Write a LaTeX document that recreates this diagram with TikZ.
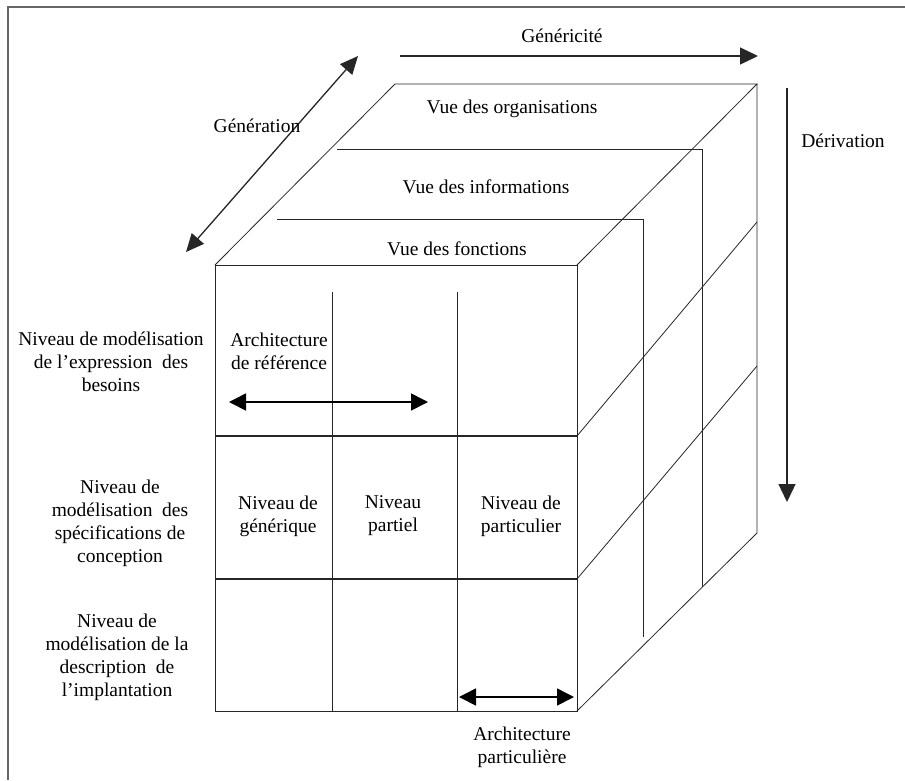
\documentclass[tikz,border=0pt]{standalone}
\usepackage{fontspec}
\setmainfont{Liberation Serif}
\usetikzlibrary{arrows.meta}

\begin{document}
\begin{tikzpicture}[x=1pt,y=-1pt,
  lbl/.style={font=\fontsize{19.5}{23}\selectfont, align=center, inner sep=0pt},
  edge/.style={draw=black!85, line width=0.8pt},
  rowline/.style={draw=black!85, line width=1.1pt},
  axis/.style={draw=black!85, line width=1.3pt,
    -{Triangle[length=18pt,width=17pt]}},
  biaxis/.style={draw=black!85, line width=1.3pt,
    {Triangle[length=18pt,width=16pt]}-{Triangle[length=18pt,width=16pt]}},
  shortaxis/.style={draw=black, line width=1.6pt,
    {Triangle[length=17pt,width=17pt]}-{Triangle[length=17pt,width=17pt]}},
  frame/.style={draw=black!60, line width=1.5pt}]

% page extent
\useasboundingbox (0,0) rectangle (905,780);
\fill[white] (0,0) rectangle (905,780);

% outer frame (top and left edges)
\coordinate (frBL) at (8,780);
\coordinate (frTL) at (8,7);
\coordinate (frTR) at (905,7);
\draw[frame] (frBL) -- (frTL) -- (frTR);

% cube corners
\coordinate (FTL) at (215,265);
\coordinate (FTR) at (577,265);
\coordinate (FBL) at (215,711);
\coordinate (FBR) at (577,711);
\coordinate (BTL) at (395,84);
\coordinate (BTR) at (757,84);
\coordinate (BBR) at (757,533);

% row dividers on the front and right faces
\coordinate (R1L) at (215,436);
\coordinate (R1M) at (577,436);
\coordinate (R1R) at (757,222);
\coordinate (R2L) at (215,579);
\coordinate (R2M) at (577,579);
\coordinate (R2R) at (757,366);

% column dividers on the front face
\coordinate (C1T) at (332,292);
\coordinate (C1B) at (332,711);
\coordinate (C2T) at (457,292);
\coordinate (C2B) at (457,711);

% inner view layers
\coordinate (InfL) at (337,149);
\coordinate (InfC) at (702,149);
\coordinate (InfB) at (702,587);
\coordinate (FonL) at (277,219);
\coordinate (FonC) at (643,219);
\coordinate (FonB) at (643,637);

% cube outline
\draw[edge] (FTL) -- (FTR) -- (FBR) -- (FBL) -- cycle;
\draw[edge] (FTL) -- (BTL) -- (BTR) -- (FTR);
\draw[edge] (BTR) -- (BBR) -- (FBR);

% rows and columns
\draw[rowline] (R1L) -- (R1M);
\draw[edge] (R1M) -- (R1R);
\draw[rowline] (R2L) -- (R2M);
\draw[edge] (R2M) -- (R2R);
\draw[edge] (C1T) -- (C1B);
\draw[edge] (C2T) -- (C2B);

% view layers
\draw[edge] (InfL) -- (InfC) -- (InfB);
\draw[edge] (FonL) -- (FonC) -- (FonB);

% axes
\coordinate (genA) at (400,56);
\coordinate (genB) at (758,56);
\draw[axis] (genA) -- (genB);
\coordinate (gnA) at (186,252);
\coordinate (gnB) at (358,56);
\draw[biaxis] (gnA) -- (gnB);
\coordinate (drA) at (787,88);
\coordinate (drB) at (787,502);
\draw[axis] (drA) -- (drB);

% architecture extents
\coordinate (arA) at (229,402);
\coordinate (arB) at (428,402);
\draw[shortaxis] (arA) -- (arB);
\coordinate (apA) at (459,697);
\coordinate (apB) at (574,697);
\draw[shortaxis] (apA) -- (apB);

% axis labels
\node[lbl] (tGenericite) at (562,36) {Généricité};
\node[lbl] (tGeneration) at (257,126) {Génération};
\node[lbl] (tDerivation) at (843,141) {Dérivation};

% view labels
\node[lbl] (tOrg) at (512,109) {Vue des organisations};
\node[lbl] (tInf) at (486,187) {Vue des informations};
\node[lbl] (tFon) at (457,249) {Vue des fonctions};

% level labels
\node[lbl] (tLev1) at (111,362) {Niveau de modélisation\\de l’expression~ des\\besoins};
\node[lbl] (tLev2) at (120,523) {Niveau de\\modélisation~ des\\spécifications de\\conception};
\node[lbl] (tLev3) at (117,657) {Niveau de\\modélisation de la\\description~ de\\l’implantation};

% cell labels
\node[lbl] (tRef) at (279,351) {Architecture\\de référence};
\node[lbl] (tGenq) at (278,516) {Niveau de\\générique};
\node[lbl] (tPart) at (393,516) {Niveau\\partiel};
\node[lbl] (tPartic) at (521,516) {Niveau de\\particulier};
\node[lbl] (tArchP) at (522,747) {Architecture\\particulière};
\end{tikzpicture}
\end{document}
